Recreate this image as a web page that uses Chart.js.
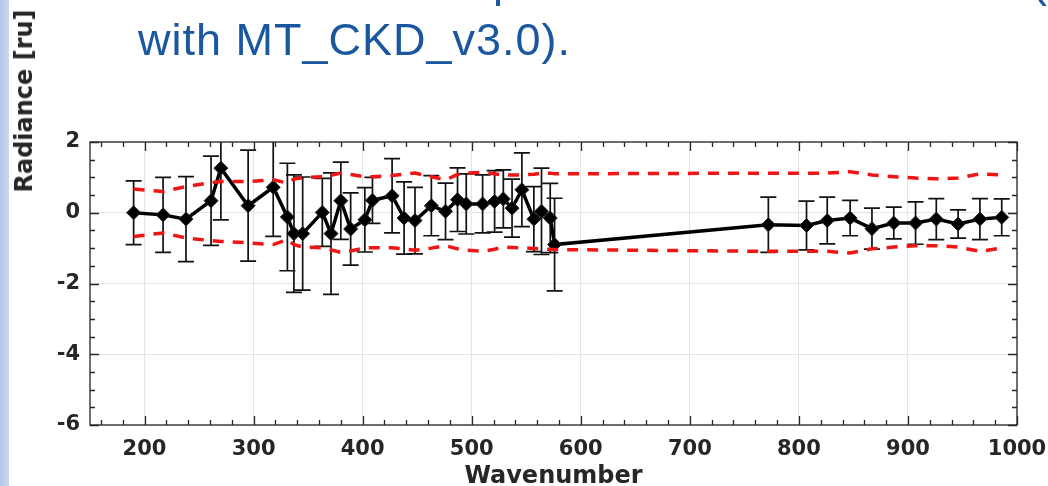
<!DOCTYPE html>
<html>
<head>
<meta charset="utf-8">
<script src="https://cdn.jsdelivr.net/npm/chart.js@4"></script>
<style>
    html, body { margin: 0; padding: 0; background: #fff; }
    #slide { position: relative; width: 1048px; height: 486px; overflow: hidden; background: #fff; }
    #strip { position: absolute; left: 0; top: 0; width: 9px; height: 486px; background: linear-gradient(to right, #b3c6e6, #cdd9ef); }
    #chart { position: absolute; left: 0; top: 0; }
    .slide-text { position: absolute; font-family: "Liberation Sans", Arial, sans-serif; font-size: 45px; line-height: 45px; color: #1b57a0; white-space: nowrap; letter-spacing: 1px; }
    #y-title { position: absolute; left: 24px; top: 101px; transform: translate(-50%, -50%) rotate(-90deg); font: bold 24px "DejaVu Sans", sans-serif; color: #262626; white-space: nowrap; }
</style>
</head>
<body>
<div id="slide">
    <div id="strip"></div>
    <canvas id="chart" width="1048" height="486"></canvas>
    <div class="slide-text" style="left: 493px; top: -41px;">p</div>
    <div class="slide-text" style="left: 1032px; top: -41px;">(</div>
    <div class="slide-text" style="left: 138px; top: 17px;">with MT_CKD_v3.0).</div>
    <div id="y-title">Radiance [ru]</div>
</div>
<script>
// Mean radiance difference per channel, with 1-sigma error and the +/- bound
const wavenumber = [190, 217, 238, 261, 270, 295, 318, 331, 337, 345, 363, 371, 380, 389, 402, 409, 427,
    438, 448, 463, 476, 487, 495, 510, 521, 529, 537, 546, 557, 564, 572, 576,
    772, 807, 826, 847, 867, 887, 907, 926, 946, 966, 986];
const radiance = [0.00, -0.06, -0.18, 0.34, 1.26, 0.20, 0.72, -0.12, -0.59, -0.59, 0.01, -0.59, 0.34, -0.46, -0.20, 0.35, 0.48,
    -0.15, -0.22, 0.20, 0.04, 0.37, 0.25, 0.25, 0.32, 0.39, 0.13, 0.65, -0.18, 0.04, -0.15, -0.90,
    -0.34, -0.36, -0.22, -0.15, -0.45, -0.29, -0.29, -0.18, -0.32, -0.18, -0.13];
const errorSize = [0.90, 1.06, 1.20, 1.26, 1.46, 1.57, 1.39, 1.52, 1.66, 1.60, 0.96, 1.72, 1.09, 1.02, 0.91, 0.65, 1.05,
    1.02, 0.94, 0.85, 0.80, 0.90, 0.85, 0.82, 0.87, 0.82, 0.82, 1.04, 0.92, 1.22, 0.98, 1.31,
    0.78, 0.69, 0.66, 0.50, 0.58, 0.45, 0.60, 0.58, 0.40, 0.58, 0.52];
const upperBound = [0.67, 0.60, 0.74, 0.85, 0.88, 0.88, 0.93, 0.84, 0.95, 0.99, 1.02, 1.06, 1.12, 1.08, 1.02, 1.02, 1.05,
    1.09, 1.12, 1.02, 0.93, 1.08, 1.12, 1.14, 1.10, 1.07, 1.07, 1.07, 1.09, 1.12, 1.12, 1.10,
    1.12, 1.12, 1.12, 1.16, 1.07, 1.02, 0.98, 0.96, 0.98, 1.10, 1.07];
const lowerBound = [-0.67, -0.57, -0.71, -0.79, -0.81, -0.85, -0.90, -0.76, -0.90, -0.97, -0.99, -1.05, -1.12, -1.08, -0.99, -0.99, -0.99,
    -1.02, -1.06, -1.00, -0.93, -1.02, -1.06, -1.09, -1.03, -0.97, -0.98, -0.99, -1.01, -1.02, -1.04, -1.04,
    -1.09, -1.09, -1.09, -1.14, -1.02, -0.97, -0.93, -0.93, -0.97, -1.09, -1.00];

const xTicks = [200, 300, 400, 500, 600, 700, 800, 900, 1000];
const yTicks = [-6, -4, -2, 0, 2];

const INK = '#262626';
const tickFont = { family: 'DejaVu Sans', size: 21, weight: 'bold' };

const toPoints = vals => wavenumber.map((w, i) => ({ x: w, y: vals[i] }));

// vertical error bars with caps, clipped to the plot box
const errorBars = {
    id: 'errorBars',
    beforeDatasetsDraw(chart) {
        const { ctx, chartArea: a, scales: { x, y } } = chart;
        ctx.save();
        ctx.beginPath();
        ctx.rect(a.left, a.top, a.right - a.left, a.bottom - a.top);
        ctx.clip();
        ctx.strokeStyle = '#111';
        ctx.lineWidth = 1.7;
        wavenumber.forEach((w, i) => {
            const px = x.getPixelForValue(w);
            const top = y.getPixelForValue(radiance[i] + errorSize[i]);
            const bot = y.getPixelForValue(radiance[i] - errorSize[i]);
            ctx.beginPath();
            ctx.moveTo(px, top); ctx.lineTo(px, bot);
            ctx.moveTo(px - 8, top); ctx.lineTo(px + 8, top);
            ctx.moveTo(px - 8, bot); ctx.lineTo(px + 8, bot);
            ctx.stroke();
        });
        ctx.restore();
    }
};

// box around the axes with inward major/minor ticks on all four sides
const axesBox = {
    id: 'axesBox',
    afterDatasetsDraw(chart) {
        const { ctx, chartArea: a, scales: { x, y } } = chart;
        ctx.save();
        ctx.strokeStyle = INK;
        ctx.lineWidth = 1.3;
        ctx.strokeRect(a.left, a.top, a.right - a.left, a.bottom - a.top);
        ctx.beginPath();
        for (let v = 160; v <= 1000; v += 20) {
            const px = Math.round(x.getPixelForValue(v)) + 0.5;
            const len = v % 100 === 0 ? 9 : 5;
            ctx.moveTo(px, a.bottom); ctx.lineTo(px, a.bottom - len);
            ctx.moveTo(px, a.top); ctx.lineTo(px, a.top + len);
        }
        for (let v = -6; v <= 2; v += 0.5) {
            const py = Math.round(y.getPixelForValue(v)) + 0.5;
            const len = v % 2 === 0 ? 9 : 5;
            ctx.moveTo(a.left, py); ctx.lineTo(a.left + len, py);
            ctx.moveTo(a.right, py); ctx.lineTo(a.right - len, py);
        }
        ctx.stroke();
        ctx.restore();
    }
};

new Chart(document.getElementById('chart'), {
    type: 'line',
    data: {
        datasets: [
            {
                data: toPoints(upperBound),
                borderColor: '#f01414',
                borderWidth: 3.5,
                borderDash: [11, 9],
                pointRadius: 0,
                tension: 0
            },
            {
                data: toPoints(lowerBound),
                borderColor: '#f01414',
                borderWidth: 3.5,
                borderDash: [11, 9],
                pointRadius: 0,
                tension: 0
            },
            {
                data: toPoints(radiance),
                borderColor: '#000',
                borderWidth: 3.5,
                backgroundColor: '#000',
                pointStyle: 'rectRot',
                pointRadius: 7,
                pointBorderWidth: 1,
                pointBorderColor: '#222',
                tension: 0
            }
        ]
    },
    options: {
        responsive: false,
        animation: false,
        devicePixelRatio: 1,
        layout: { padding: { top: 142, right: 31, left: 0, bottom: 0 } },
        plugins: { legend: { display: false }, tooltip: { enabled: false } },
        scales: {
            x: {
                type: 'linear',
                min: 150,
                max: 1000,
                afterBuildTicks: s => { s.ticks = xTicks.map(v => ({ value: v })); },
                afterFit: s => { s.height = 61; s.paddingRight = 0; },
                grid: { color: '#e4e4e4', lineWidth: 1, drawTicks: false },
                border: { display: false },
                ticks: { color: INK, font: tickFont, padding: 12, maxRotation: 0, callback: v => String(v) },
                title: {
                    display: true,
                    text: 'Wavenumber',
                    color: INK,
                    font: { family: 'DejaVu Sans', size: 24, weight: 'bold', lineHeight: 1 },
                    padding: { top: 0, bottom: -3 }
                }
            },
            y: {
                min: -6,
                max: 2,
                afterBuildTicks: s => { s.ticks = yTicks.map(v => ({ value: v })); },
                afterFit: s => { s.width = 90; },
                grid: { color: '#e4e4e4', lineWidth: 1, drawTicks: false },
                border: { display: false },
                ticks: { color: INK, font: tickFont, padding: 10, callback: v => String(v) }
            }
        }
    },
    plugins: [errorBars, axesBox]
});
</script>
</body>
</html>
